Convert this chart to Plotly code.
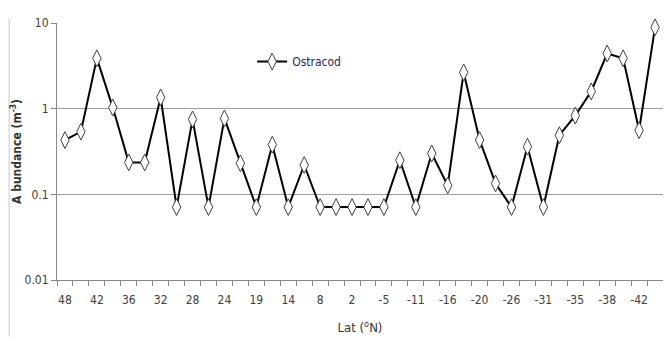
import plotly.graph_objects as go

lat_labels = ["48", "42", "36", "32", "28", "24", "19", "14", "8", "2", "-5",
              "-11", "-16", "-20", "-26", "-31", "-35", "-38", "-42"]
ostracod = [0.43, 0.54, 3.87, 1.03, 0.236, 0.236, 1.35, 0.071, 0.75, 0.071,
            0.77, 0.23, 0.071, 0.38, 0.071, 0.22, 0.071, 0.071, 0.071, 0.071,
            0.071, 0.25, 0.071, 0.30, 0.127, 2.65, 0.43, 0.134, 0.071, 0.36,
            0.071, 0.49, 0.83, 1.59, 4.4, 3.87, 0.56, 8.9]

idx = list(range(len(ostracod)))
font_fam = "DejaVu Sans Condensed, Liberation Sans Narrow, Arial Narrow, sans-serif"

fig = go.Figure()
fig.add_trace(go.Scatter(
    x=idx, y=ostracod, mode="lines+markers", name="Ostracod",
    line=dict(color="black", width=2),
    marker=dict(symbol="diamond-tall", size=12, color="white",
                line=dict(color="#404040", width=1)),
    cliponaxis=False,
))

# page body has an 8px margin: figure occupies 655x329 starting at (8, 8)
fig.update_layout(
    width=655, height=329,
    margin=dict(l=49, r=0, t=15, b=57),
    plot_bgcolor="white", paper_bgcolor="white",
    font=dict(family=font_fam, size=12, color="#404040"),
    showlegend=True,
    legend=dict(x=0.322, y=0.85, xanchor="left", yanchor="middle",
                bgcolor="rgba(0,0,0,0)", itemwidth=30,
                font=dict(size=12, color="#1f1f5f")),
    xaxis=dict(
        range=[-0.5, len(ostracod) - 0.5], automargin=False,
        tickmode="array", tickvals=idx[::2], ticktext=lat_labels,
        ticks="", showgrid=False, zeroline=False, ticklabelstandoff=9,
        showline=True, linecolor="#888888", linewidth=1,
        minor=dict(tickmode="array", tickvals=[i - 0.5 for i in range(len(ostracod) + 1)],
                   ticks="outside", ticklen=5, tickcolor="#888888", showgrid=False),
        title=dict(text="Lat (<sup>o</sup>N)", font=dict(size=13, color="#333333"), standoff=16),
        tickfont=dict(size=12),
    ),
    yaxis=dict(
        type="log", range=[-2, 1], automargin=False,
        tickvals=[0.01, 0.1, 1, 10], ticktext=["0.01", "0.1", "1", "10"],
        ticks="outside", ticklen=5, tickcolor="#888888",
        showgrid=True, gridcolor="#a0a0a0", gridwidth=1,
        showline=True, linecolor="#888888", linewidth=1, zeroline=False,
        title=dict(text="<b>A bundance (m<sup>-3</sup>)</b>", font=dict(size=12, color="#333333"), standoff=12),
        tickfont=dict(size=12),
    ),
)

fig.add_shape(type="line", xref="paper", yref="paper",
              x0=-0.079, x1=-0.079, y0=-0.22, y1=1.02,
              line=dict(color="#c8c8c8", width=1))

fig.write_html("out.html")
